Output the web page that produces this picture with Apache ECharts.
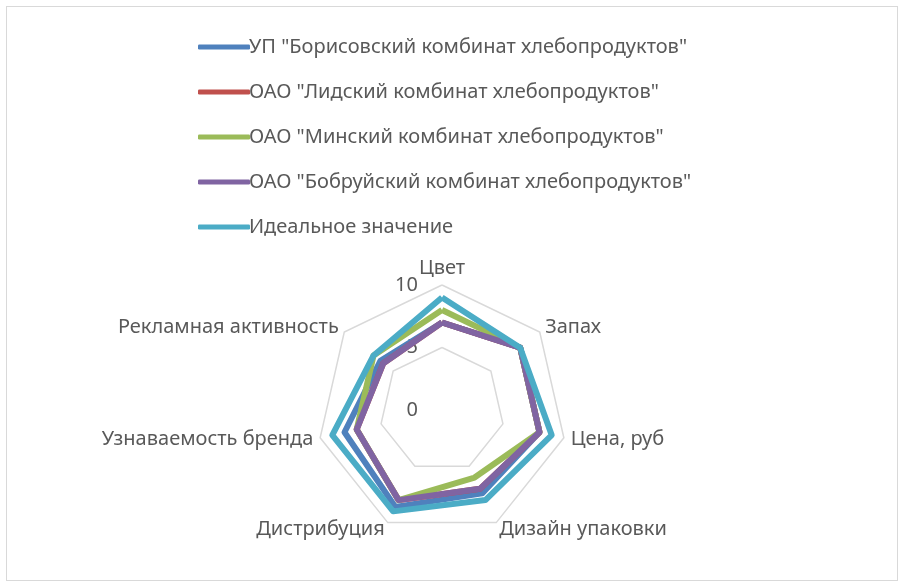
<!DOCTYPE html>
<html>
<head>
<meta charset="utf-8">
<script src="https://cdn.jsdelivr.net/npm/echarts@6/dist/echarts.min.js"></script>
<style>
  html, body { margin: 0; padding: 0; background: #fff; }
  #frame { position: absolute; left: 6px; top: 6px; width: 890px; height: 573px; border: 1px solid #d9d9d9; }
  #chart { position: absolute; left: 0; top: 0; width: 904px; height: 588px; }
</style>
</head>
<body>
<div id="frame"></div>
<div id="chart"></div>
<script>
// criteria, in clockwise order starting at the top
const categories = ['Цвет', 'Запах', 'Цена, руб', 'Дизайн упаковки', 'Дистрибуция', 'Узнаваемость бренда', 'Рекламная активность']
const seriesNames = [
  'УП "Борисовский комбинат хлебопродуктов"',
  'ОАО "Лидский комбинат хлебопродуктов"',
  'ОАО "Минский комбинат хлебопродуктов"',
  'ОАО "Бобруйский комбинат хлебопродуктов"',
  'Идеальное значение'
]
const borisov = [7, 8, 8, 7.4, 8.6, 8, 6.3]
const lida = [7, 8, 8, 7, 8, 7, 6]
const minsk = [8, 8, 8, 6, 8, 7, 7]
const bobruisk = [7, 8, 8, 7, 8, 7, 6]
const ideal = [9, 8, 9, 8, 9, 9, 7]
const tickMax = 10
const tickStep = 5

const colors = ['#4f81bd', '#c0504d', '#9bbb59', '#8064a2', '#4bacc6']
const allValues = [borisov, lida, minsk, bobruisk, ideal]

// echarts puts radar indicators counter-clockwise, Excel clockwise -> reorder
function cw(arr) {
  return [arr[0]].concat(arr.slice(1).reverse())
}

const center = [442, 410]
const radius = 125
const textColor = '#595959'
const font = 'Noto Sans'

let chart = echarts.init(document.getElementById('chart'))
let option = {
  animation: false,
  legend: {
    orient: 'vertical',
    left: 193,
    top: 32,
    itemWidth: 52,
    itemHeight: 5,
    itemGap: 25,
    icon: 'roundRect',
    data: seriesNames,
    textStyle: { color: textColor, fontSize: 20, fontFamily: font, lineHeight: 20, padding: [0, 0, 0, -6] }
  },
  radar: {
    center: center,
    radius: radius,
    shape: 'polygon',
    splitNumber: 2,
    indicator: cw(categories).map(n => ({ name: n, min: 0, max: tickMax })),
    axisName: { color: textColor, fontSize: 20, fontFamily: font },
    nameGap: 7,
    axisLine: { show: false },
    axisTick: { show: false },
    splitArea: { show: false },
    splitLine: { lineStyle: { color: '#d9d9d9', width: 1.5 } }
  },
  polar: { center: center, radius: radius },
  angleAxis: { show: false, startAngle: 90, min: 0, max: 360 },
  radiusAxis: {
    min: 0,
    max: tickMax,
    interval: tickStep,
    z: 0,
    axisLine: { show: false },
    axisTick: { show: false },
    splitLine: { show: false },
    axisLabel: { color: textColor, fontSize: 20, fontFamily: font, margin: 24 }
  },
  series: [{
    type: 'radar',
    symbol: 'none',
    data: seriesNames.map((n, i) => ({
      name: n,
      value: cw(allValues[i]),
      lineStyle: { color: colors[i], width: 6 },
      itemStyle: { color: colors[i] }
    }))
  }]
}
chart.setOption(option)
</script>
</body>
</html>
